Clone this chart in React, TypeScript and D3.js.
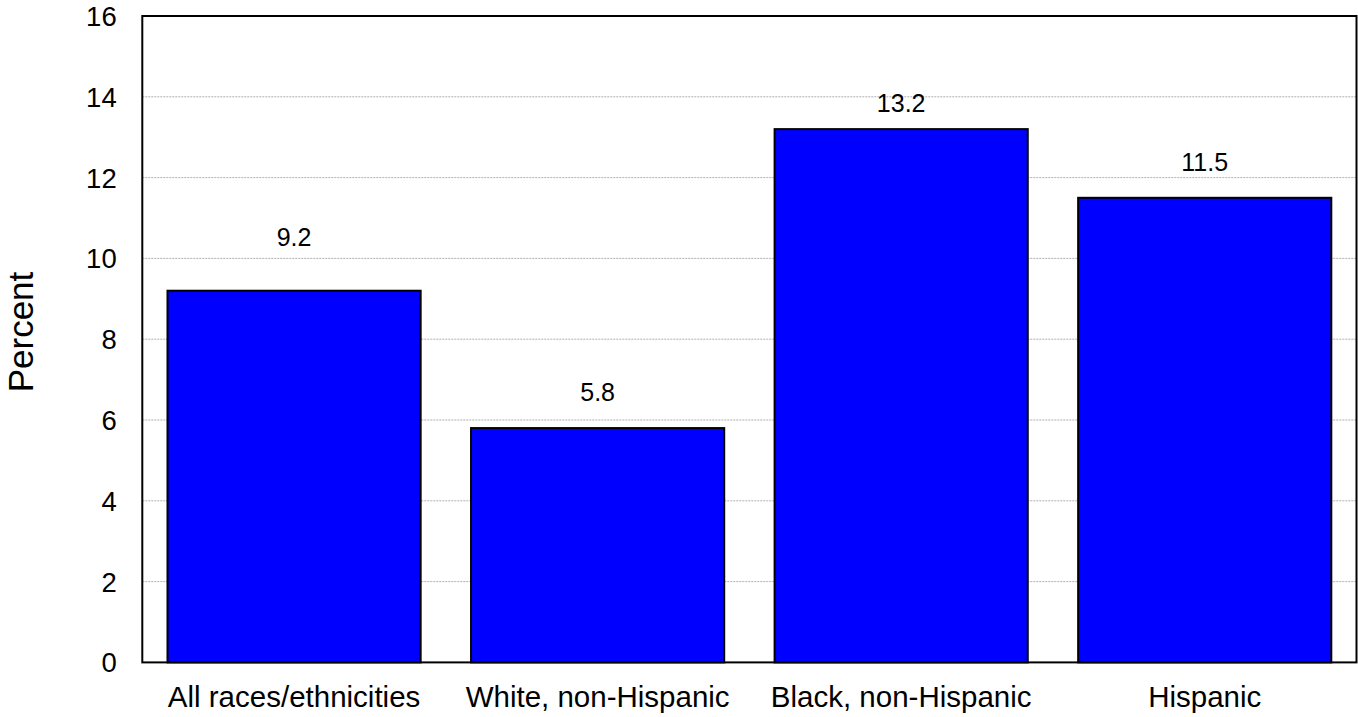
import React from "react";
import * as d3 from "d3";

const categories = ["All races/ethnicities", "White, non-Hispanic", "Black, non-Hispanic", "Hispanic"];
const values = [9.2, 5.8, 13.2, 11.5];
const valueLabels = ["9.2", "5.8", "13.2", "11.5"];
const yTicks = [0, 2, 4, 6, 8, 10, 12, 14, 16];

// layout
const W = 1358;
const H = 717;
const left = 142.3;
const right = 1356.5;
const top = 16;
const bottom = 662.4;
const labelLift = [45, 27, 17, 27];
const font = "'Liberation Sans', Arial, Helvetica, sans-serif";

export default function App() {
  const x = d3.scaleBand<string>().domain(categories).range([left, right]).paddingInner(0.166).paddingOuter(0.083);
  const y = d3.scaleLinear().domain([0, 16]).range([bottom, top]);

  return (
    <svg width={W} height={H} style={{ position: "absolute", left: 0, top: 0, background: "#fff" }} fontFamily={font}>
      <rect x={0} y={0} width={W} height={H} fill="#fff" />
      {yTicks.slice(1, -1).map((t) => (
        <line key={"g" + t} x1={left} x2={right} y1={y(t)} y2={y(t)} stroke="#9a9a9a" strokeWidth={0.8} strokeDasharray="2,1" />
      ))}
      {categories.map((c, i) => (
        <rect
          key={c}
          x={x(c)!}
          y={y(values[i])}
          width={x.bandwidth()}
          height={y(0) - y(values[i])}
          fill="#0000ff"
          stroke="#000"
          strokeWidth={2}
        />
      ))}
      <rect x={left} y={top} width={right - left} height={bottom - top} fill="none" stroke="#000" strokeWidth={2} />
      {yTicks.map((t) => (
        <text key={"t" + t} x={116.7} y={y(t)} dy="0.36em" textAnchor="end" fontSize={27.5} fill="#000">
          {t}
        </text>
      ))}
      {categories.map((c, i) => (
        <text key={"v" + c} x={x(c)! + x.bandwidth() / 2} y={y(values[i]) - labelLift[i]} textAnchor="middle" fontSize={25} fill="#000">
          {valueLabels[i]}
        </text>
      ))}
      {categories.map((c) => (
        <text key={"c" + c} x={x(c)! + x.bandwidth() / 2} y={707} textAnchor="middle" fontSize={29.5} fill="#000">
          {c}
        </text>
      ))}
      <text transform="translate(33,332) rotate(-90)" textAnchor="middle" fontSize={35} fill="#000">
        Percent
      </text>
    </svg>
  );
}
